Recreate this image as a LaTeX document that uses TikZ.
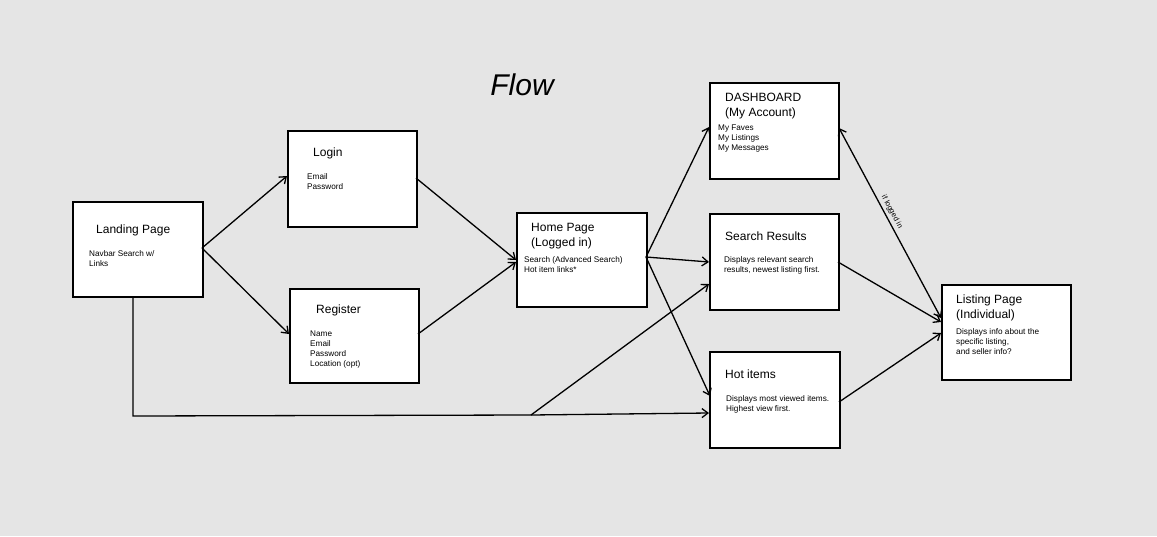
\documentclass[tikz,border=0pt]{standalone}
\usepackage{fontspec}
\setmainfont{Liberation Sans}
\usetikzlibrary{arrows.meta}
\definecolor{bg}{RGB}{229,229,229}
\begin{document}
\begin{tikzpicture}[x=1pt,y=-1pt,
  box/.style={draw=black,line width=2.4pt,fill=white,anchor=north west,inner sep=0pt},
  ttl/.style={anchor=base west,inner sep=0pt,font=\fontsize{12}{14}\selectfont},
  sub/.style={anchor=north west,inner sep=0pt,align=left,font=\fontsize{8.2}{10}\selectfont},
  conn/.style={draw=black,line width=1.3pt,-{Straight Barb[length=6pt,width=9pt]}},
  plain/.style={draw=black,line width=1.3pt}]
\fill[bg] (0,0) rectangle (1157,536);
\useasboundingbox (0,0) rectangle (1157,536);

\node[anchor=center,inner sep=0pt,font=\fontsize{30}{32}\selectfont\itshape] (flow) at (522,85) {Flow};

% boxes
\node[box,minimum width=130pt,minimum height=95pt] (land) at (72,201) {};
\node[box,minimum width=129pt,minimum height=96pt] (login) at (287,130) {};
\node[box,minimum width=129pt,minimum height=94pt] (reg) at (289,288) {};
\node[box,minimum width=130pt,minimum height=94pt] (home) at (516,212) {};
\node[box,minimum width=129pt,minimum height=96pt] (dash) at (709,82) {};
\node[box,minimum width=129pt,minimum height=96pt] (sres) at (709,213) {};
\node[box,minimum width=130pt,minimum height=96pt] (hot) at (709,351) {};
\node[box,minimum width=129pt,minimum height=95pt] (list) at (941,284) {};

% texts
\node[ttl] (landT) at (96,233) {Landing Page};
\node[sub] (landS) at (89,250) {Navbar Search w/\\Links};
\node[ttl] (loginT) at (313,156) {Login};
\node[sub] (loginS) at (307,173) {Email\\Password};
\node[ttl] (regT) at (316,313) {Register};
\node[sub] (regS) at (310,331) {Name\\Email\\Password\\Location (opt)};
\node[ttl] (homeT) at (531,231) {Home Page};
\node[ttl] (homeT2) at (531,246) {(Logged in)};
\node[sub] (homeS) at (524,256) {Search (Advanced Search)\\Hot item links*};
\node[ttl] (dashT) at (725,101) {DASHBOARD};
\node[ttl] (dashT2) at (725,116) {(My Account)};
\node[sub] (dashS) at (718,125) {My Faves\\My Listings\\My Messages};
\node[ttl] (sresT) at (725,240) {Search Results};
\node[sub] (sresS) at (724,256) {Displays relevant search\\results, newest listing first.};
\node[ttl] (hotT) at (725,378) {Hot items};
\node[sub] (hotS) at (726,395) {Displays most viewed items.\\Highest view first.};
\node[ttl] (listT) at (956,303) {Listing Page};
\node[ttl] (listT2) at (956,318) {(Individual)};
\node[sub] (listS) at (956,328) {Displays info about the\\specific listing,\\and seller info?};

% helper coordinates
\coordinate (landR) at (202,248);
\coordinate (landB) at (133,297);
\coordinate (corner) at (133,416);
\coordinate (branch) at (531,415);
\coordinate (homeR) at (646,257);

% connectors
\draw[conn] (landR) -- (287,176);
\draw[conn] (landR) -- (289,334);
\draw[conn] (416,178) -- (516,260);
\draw[conn] (418,334) -- (516,262);
\draw[conn] (homeR) -- (709,127);
\draw[conn] (homeR) -- (709,262);
\draw[conn] (homeR) -- (710,396);
\draw[plain] (landB) -- (corner) -- (branch);
\draw[conn] (branch) -- (709,413);
\draw[conn] (branch) -- (709,284);
\draw[conn] (838,262) -- (941,322);
\draw[conn] (839,402) -- (941,333);
\draw[draw=black,line width=1.3pt,{Straight Barb[length=6pt,width=9pt]}-{Straight Barb[length=6pt,width=9pt]}] (839,128) -- (941,318);
\node[rotate=-61.5,inner sep=0pt,font=\fontsize{7.5}{8}\selectfont] (iflog) at (892,212) {if logged in};
\end{tikzpicture}
\end{document}
